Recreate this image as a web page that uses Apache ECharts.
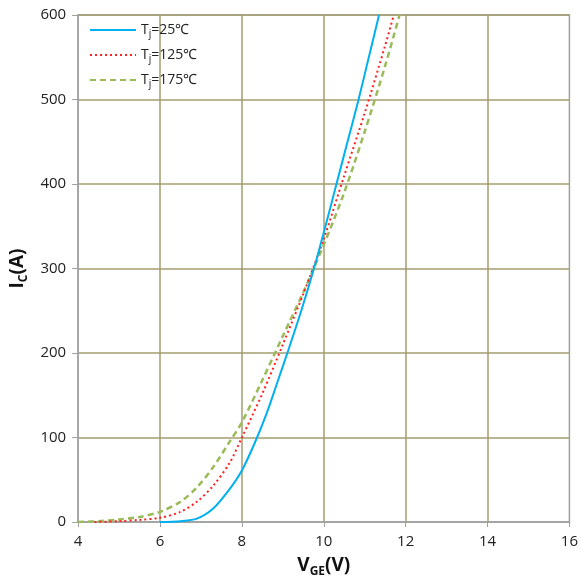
<!DOCTYPE html>
<html>
<head>
<meta charset="utf-8">
<script src="https://cdn.jsdelivr.net/npm/echarts@6/dist/echarts.min.js"></script>
<style>html,body{margin:0;padding:0;background:#fff}#c{width:581px;height:583px}</style>
</head>
<body>
<div id="c"></div>
<script>
var seriesNames = ['Tj=25℃', 'Tj=125℃', 'Tj=175℃'];
var xTicks = [4, 6, 8, 10, 12, 14, 16];
var yTicks = [0, 100, 200, 300, 400, 500, 600];
var tj25 = [[6,0],[6.5,1],[6.9,4],[7.3,16],[7.7,39],[8,61],[8.3,92],[8.6,128],[8.85,163],[9.11,200],[9.45,250],[9.76,300],[10.04,350],[10.31,400],[10.58,450],[10.85,500],[11.1,550],[11.35,600]];
var tj125 = [[4.4,0],[5,1],[5.5,2.5],[6,5],[6.5,12],[6.9,24],[7.3,43],[7.7,70],[8,100],[8.5,152],[9,210],[9.5,270],[10,335],[10.5,410],[11,484],[11.5,564],[11.71,600]];
var tj175 = [[4,0],[4.5,1],[5,3],[5.5,6],[6,12],[6.5,24],[6.9,41],[7.3,65],[7.7,95],[8,118],[8.5,168],[9,220],[9.5,272],[10,328],[10.5,390],[11,462],[11.5,540],[11.85,600]];

var chart = echarts.init(document.getElementById('c'));
var font = 'Open Sans';
var gridColor = '#a39c6e';
function legendLabel(n) {
  var m = n.match(/^T(j)(.*)$/);
  return '{a|T}{s|' + m[1] + '}{a|' + m[2] + '}';
}
chart.setOption({
  animation: false,
  backgroundColor: '#fff',
  grid: {left: 78, right: 10, top: 15, bottom: 61, show: true, borderColor: '#a0a0a0', borderWidth: 1.5, backgroundColor: 'transparent'},
  legend: {
    data: seriesNames,
    orient: 'vertical',
    left: 84, top: 18,
    itemWidth: 46, itemHeight: 14, itemGap: 9,
    itemStyle: {color: 'transparent', borderWidth: 0, opacity: 0},
    formatter: legendLabel,
    textStyle: {
      fontFamily: font, fontSize: 14, color: '#222',
      rich: {
        a: {fontFamily: font, fontSize: 14, color: '#222'},
        s: {fontFamily: font, fontSize: 10, color: '#222', verticalAlign: 'bottom', padding: [8, 0, 0, 0]}
      }
    }
  },
  xAxis: {
    type: 'value', min: xTicks[0], max: xTicks[xTicks.length - 1], interval: 2,
    name: 'V{s|GE}(V)', nameLocation: 'middle', nameGap: 32,
    nameTextStyle: {fontFamily: font, fontSize: 19, fontWeight: 'bold', color: '#111',
      rich: {s: {fontFamily: font, fontSize: 12, fontWeight: 'bold', color: '#111', verticalAlign: 'bottom', padding: [12, 0, 0, 0]}}},
    axisLine: {show: true, lineStyle: {color: '#a0a0a0', width: 1.5}},
    axisTick: {show: true, inside: false, length: 5, lineStyle: {color: '#a0a0a0'}},
    axisLabel: {fontFamily: font, fontSize: 15, color: '#222', margin: 12},
    splitLine: {show: true, showMaxLine: false, showMinLine: false, lineStyle: {color: gridColor, width: 1.5}}
  },
  yAxis: {
    type: 'value', min: yTicks[0], max: yTicks[yTicks.length - 1], interval: 100,
    name: 'I{s|C}(A)', nameLocation: 'middle', nameGap: 44,
    nameTextStyle: {fontFamily: font, fontSize: 19, fontWeight: 'bold', color: '#111',
      rich: {s: {fontFamily: font, fontSize: 12, fontWeight: 'bold', color: '#111', verticalAlign: 'bottom', padding: [12, 0, 0, 0]}}},
    axisLine: {show: true, lineStyle: {color: '#a0a0a0', width: 1.5}},
    axisTick: {show: true, inside: false, length: 6, lineStyle: {color: '#a0a0a0'}},
    axisLabel: {fontFamily: font, fontSize: 15, color: '#222', margin: 12},
    splitLine: {show: true, showMinLine: false, showMaxLine: true, lineStyle: {color: gridColor, width: 1.5}}
  },
  series: [
    {name: seriesNames[2], type: 'line', data: tj175, symbol: 'none', smooth: 0.3,
      lineStyle: {color: '#9bbb59', width: 2.5, type: [6, 4]}, itemStyle: {color: '#9bbb59'}, z: 2},
    {name: seriesNames[1], type: 'line', data: tj125, symbol: 'none', smooth: 0.3,
      lineStyle: {color: '#ff2020', width: 2, type: [2, 3]}, itemStyle: {color: '#ff2020'}, z: 3},
    {name: seriesNames[0], type: 'line', data: tj25, symbol: 'none', smooth: 0.3,
      lineStyle: {color: '#00b0f0', width: 2}, itemStyle: {color: '#00b0f0'}, z: 4}
  ]
});
</script>
</body>
</html>
